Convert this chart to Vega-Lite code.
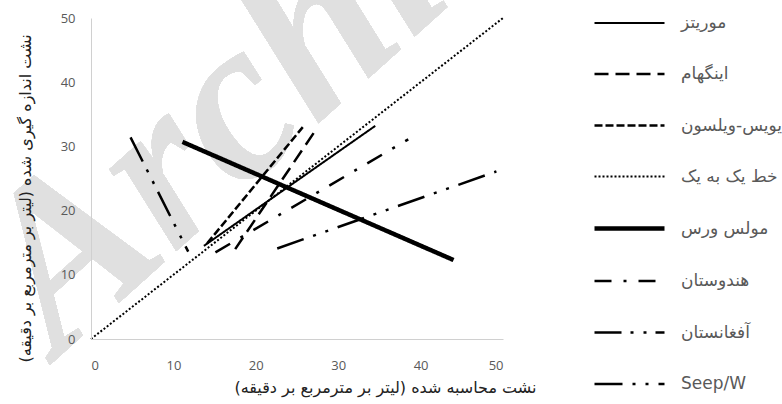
{
  "$schema": "https://vega.github.io/schema/vega-lite/v6.json",
  "autosize": "none",
  "width": 412,
  "height": 321,
  "padding": {"left": 91, "top": 18, "right": 279, "bottom": 65},
  "background": "white",
  "config": {"view": {"stroke": null}},
  "data": {"values": [
    {"series": "موریتز", "x": 13.7, "y": 14.5},
    {"series": "موریتز", "x": 34.5, "y": 33.2},
    {"series": "اینگهام", "x": 17.5, "y": 14.0},
    {"series": "اینگهام", "x": 27.4, "y": 32.8},
    {"series": "دیویس-ویلسون", "x": 14.1, "y": 14.9},
    {"series": "دیویس-ویلسون", "x": 25.7, "y": 33.0},
    {"series": "خط یک به یک", "x": 0, "y": 0},
    {"series": "خط یک به یک", "x": 50, "y": 50},
    {"series": "مولس ورس", "x": 11.1, "y": 30.7},
    {"series": "مولس ورس", "x": 44.0, "y": 12.3},
    {"series": "هندوستان", "x": 15.1, "y": 13.5},
    {"series": "هندوستان", "x": 38.5, "y": 31.1},
    {"series": "آفغانستان", "x": 4.8, "y": 31.4},
    {"series": "آفغانستان", "x": 11.8, "y": 13.6},
    {"series": "Seep/W", "x": 22.6, "y": 14.1},
    {"series": "Seep/W", "x": 49.2, "y": 26.1}
  ]},
  "layer": [
    {
      "mark": {"type": "text", "text": "Archive", "font": "Liberation Serif", "fontStyle": "italic", "fontWeight": "bold", "fontSize": 230, "angle": -42, "color": "#e0e0e0", "align": "left", "baseline": "alphabetic"},
      "encoding": {
        "x": {"datum": -3.9, "type": "quantitative", "scale": {"domain": [0, 50]}},
        "y": {"datum": -2.8, "type": "quantitative", "scale": {"domain": [0, 50]}}
      }
    },
    {
      "mark": {"type": "line", "color": "black", "strokeCap": "butt"},
      "encoding": {
        "x": {"field": "x", "type": "quantitative", "scale": {"domain": [0, 50]},
          "axis": {"zindex": 1, "values": [0, 10, 20, 30, 40, 50], "grid": false, "ticks": false, "domainColor": "#d0d0d0", "labelFont": "Open Sans", "labelFontSize": 13, "labelColor": "#595959", "labelPadding": 20,
            "title": "نشت محاسبه شده (لیتر بر مترمربع بر دقیقه)", "titleFont": "DejaVu Sans", "titleFontSize": 16, "titleFontWeight": "normal", "titleColor": "#222222", "titleX": 294, "titlePadding": 7}},
        "y": {"field": "y", "type": "quantitative", "scale": {"domain": [0, 50]},
          "axis": {"zindex": 1, "values": [0, 10, 20, 30, 40, 50], "grid": false, "ticks": false, "domainColor": "#d0d0d0", "labelFont": "Open Sans", "labelFontSize": 13, "labelColor": "#595959", "labelPadding": 16,
            "title": "نشت اندازه گیری شده (لیتر بر مترمربع بر دقیقه)", "titleFont": "DejaVu Sans", "titleFontSize": 16, "titleFontWeight": "normal", "titleColor": "#222222", "titleY": 180, "titlePadding": 27}},
        "strokeDash": {"field": "series", "type": "ordinal",
          "scale": {"type": "ordinal", "domain": ["موریتز", "اینگهام", "دیویس-ویلسون", "خط یک به یک", "مولس ورس", "هندوستان", "آفغانستان", "Seep/W"],
            "range": [[1, 0], [14, 7], [8, 3], [2, 2], [1, 0], [17, 12, 3, 12], [27, 9, 3, 10, 3, 9], [28, 10, 3, 10, 3, 10]]},
          "legend": {"orient": "none", "legendX": 501, "legendY": -31, "title": null, "symbolType": "stroke", "symbolSize": 4900, "symbolStrokeColor": "black", "labelFont": "DejaVu Sans", "labelFontSize": 17, "labelColor": "#595959", "rowPadding": 6.5, "labelOffset": 14, "padding": 0}},
        "strokeWidth": {"field": "series", "type": "ordinal",
          "scale": {"type": "ordinal", "domain": ["موریتز", "اینگهام", "دیویس-ویلسون", "خط یک به یک", "مولس ورس", "هندوستان", "آفغانستان", "Seep/W"],
            "range": [2, 2.5, 2.5, 2, 4.5, 2.5, 2.5, 2.5]},
          "legend": {"orient": "none", "legendX": 501, "legendY": -31, "title": null, "symbolType": "stroke", "symbolSize": 4900, "symbolStrokeColor": "black", "labelFont": "DejaVu Sans", "labelFontSize": 17, "labelColor": "#595959", "rowPadding": 6.5, "labelOffset": 14, "padding": 0}}
      }
    }
  ]
}
